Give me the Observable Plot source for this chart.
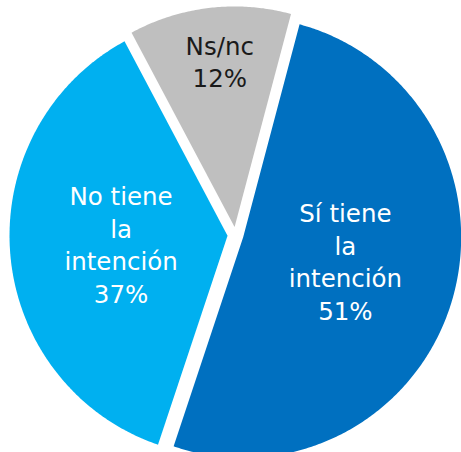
<!DOCTYPE html>
<html><head><meta charset="utf-8">
<script src="https://cdn.jsdelivr.net/npm/d3@7"></script>
<script src="https://cdn.jsdelivr.net/npm/@observablehq/plot@0.6"></script>
<style>body{margin:0;background:#fff}</style>
</head><body><div id="chart"></div>
<script>
// ---- data ----
const categories = ["Sí tiene la intención", "No tiene la intención", "Ns/nc"];
const labelLines = ["Sí tiene\nla\nintención", "No tiene\nla\nintención", "Ns/nc"];
const values = [51, 37, 12];
const colors = ["#0070C0", "#00B0F0", "#BFBFBF"];

// ---- layout ----
const W = 461, H = 452;
const RX = 218, RY = 220.5, CX = 235, CY = 234.5; // pie radii and center in px
const firstAngle = 15;                 // degrees clockwise from north
const explode = 8 / RX;                // slice explosion (fraction of radius)

const total = d3.sum(values);
const rad = d => d * Math.PI / 180;
let acc = 0;
const slices = values.map((v, i) => {
  const a0 = firstAngle + acc / total * 360; acc += v;
  const a1 = firstAngle + acc / total * 360;
  return {i, cat: categories[i], v, a0, a1, mid: (a0 + a1) / 2};
});

const pts = [];
for (const s of slices) {
  const ox = explode * Math.sin(rad(s.mid)), oy = explode * Math.cos(rad(s.mid));
  pts.push({cat: s.cat, x: ox, y: oy});
  const n = Math.ceil((s.a1 - s.a0) / 0.5);
  for (let k = 0; k <= n; k++) {
    const a = s.a0 + (s.a1 - s.a0) * k / n;
    pts.push({cat: s.cat, x: ox + Math.sin(rad(a)), y: oy + Math.cos(rad(a))});
  }
  pts.push({cat: s.cat, x: ox, y: oy});
}

const labelData = slices.map(s => {
  const r = s.v / total < 0.2 ? 0.75 : 0.49;
  const ox = explode * Math.sin(rad(s.mid)), oy = explode * Math.cos(rad(s.mid));
  return {
    cat: s.cat,
    x: ox + r * Math.sin(rad(s.mid)),
    y: oy + r * Math.cos(rad(s.mid)),
    text: labelLines[s.i] + "\n" + values[s.i] + "%",
    i: s.i
  };
});

const textOpts = {x: "x", y: "y", text: "text", fontSize: 24.5, lineHeight: 1.33,
  lineAnchor: "middle", textAnchor: "middle", fontFamily: "DejaVu Sans"};

const chart = Plot.plot({
  width: W, height: H, margin: 0,
  style: {background: "white"},
  x: {domain: [-CX / RX, (W - CX) / RX], axis: null},
  y: {domain: [-(H - CY) / RY, CY / RY], axis: null},
  color: {domain: categories, range: colors},
  marks: [
    Plot.line(pts, {x: "x", y: "y", z: "cat", fill: "cat", stroke: null}),
    Plot.text(labelData.filter(d => d.i === 0), {...textOpts, fill: "white", dy: -8}),
    Plot.text(labelData.filter(d => d.i === 1), {...textOpts, fill: "white", dy: -1}),
    Plot.text(labelData.filter(d => d.i === 2), {...textOpts, fill: "#1a1a1a", dx: 4, dy: -2})
  ]
});
document.getElementById("chart").appendChild(chart);
</script>
</body></html>
